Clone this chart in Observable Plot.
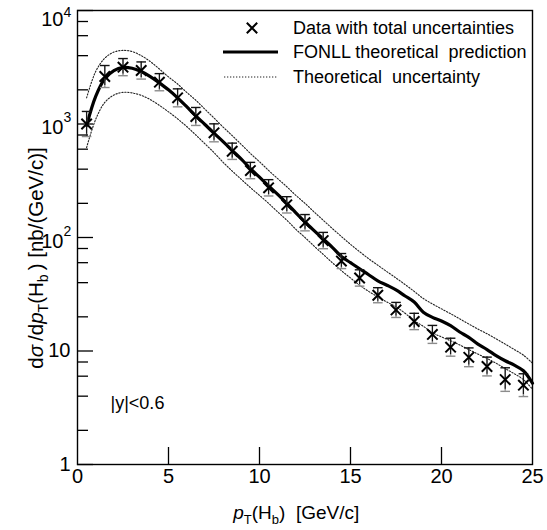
<!DOCTYPE html>
<html><head><meta charset="utf-8">
<script src="https://cdn.jsdelivr.net/npm/d3@7"></script>
<script src="https://cdn.jsdelivr.net/npm/@observablehq/plot@0.6"></script>
<style>
body{margin:0;background:#fff;}
#chart{position:relative;width:547px;height:530px;}
#chart svg{font-family:"Liberation Sans",Arial,sans-serif;}
</style></head><body><div id="chart"></div>
<script>
// ---- data ----
const ptBins = [0.5,1.5,2.5,3.5,4.5,5.5,6.5,7.5,8.5,9.5,10.5,11.5,12.5,13.5,14.5,15.5,16.5,17.5,18.5,19.5,20.5,21.5,22.5,23.5,24.5];
const dataValues = [1000,2620,3170,2960,2335,1700,1165,836,575,389,274,194,135,94,62,44,31,23,18.2,14.0,10.8,8.8,7.3,5.6,5.0];
const dataErrPct = [29,25,19,19,19,20,20,20,18,18,18,18,18,18,16.5,18,16.5,16.5,18,20,20,21,21,27,26];

const theoryPt = [0.5,1,1.5,2,2.5,3,3.5,4,4.5,5,5.5,6,6.5,7,7.5,8,8.5,9,9.5,10,10.5,11,11.5,12,12.5,13,13.5,14,14.5,15,15.5,16,16.5,17,17.5,18,18.5,19,19.5,20,20.5,21,21.5,22,22.5,23,23.5,24,24.5,25];
const theoryCentral = [970,1750,2500,2950,3150,3100,2900,2620,2300,2000,1700,1420,1180,990,830,700,585,490,405,340,285,240,200,165,137,115,97,82,68,60,53,47,41.5,38,34.5,30.5,27,22,19.8,18.4,16.7,14.7,13.2,11.5,10.3,9.1,8.2,7.5,6.7,5.2];
const theoryUpper = [1700,2900,3800,4300,4450,4350,4000,3550,3050,2600,2250,1900,1620,1350,1130,940,790,660,550,465,390,330,280,235,200,168,142,120,102,87,75,65,57,50,44,38.5,33.5,29,26,23.5,21.3,19.2,17.3,15.6,14.2,12.8,11.5,10.3,9.2,7.8];
const theoryLower = [620,1100,1550,1800,1900,1880,1790,1640,1460,1280,1110,950,800,670,560,460,385,325,275,235,200,168,142,118,100,84,71,60,51,44,38,33.5,30,27,24.5,21.5,18.5,16.5,14.5,13.3,12.3,11.3,10.3,9.4,8.6,7.8,7.0,6.3,5.6,4.6];

const xTickValues = [0,5,10,15,20,25];
const yMajorTicks = [1,10,100,1000,10000];
const yMinorMantissa = [2,4,6,8];
const legendLabels = ["Data with total uncertainties","FONLL theoretical  prediction","Theoretical  uncertainty"];
const rapidityLabel = "|y|<0.6";

// ---- tables built from the arrays ----
const points = ptBins.map((pt,i)=>({pt, v:dataValues[i], lo:dataValues[i]/(1+dataErrPct[i]/100), hi:dataValues[i]*(1+dataErrPct[i]/100), loB:dataValues[i]/(1+0.8*dataErrPct[i]/100)}));
const theory = theoryPt.map((pt,i)=>({pt, c:theoryCentral[i], u:theoryUpper[i], l:theoryLower[i]}));
const yMinorTicks = [];
for (const d of [1,10,100,1000]) for (const m of yMinorMantissa) yMinorTicks.push(d*m);
const yLow = yMajorTicks.filter(d=>d<100);
const yPow = yMajorTicks.filter(d=>d>=100 && d<10000);
const yTop = yMajorTicks.filter(d=>d>=10000);
const expo = d=>String(Math.round(Math.log10(d)));

const W=547,H=530,mL=77,mR=15,mT=10,mB=66;
const fw=W-mL-mR, fh=H-mT-mB;
const cap = {draw(ctx,size){const w=Math.sqrt(size/Math.PI); ctx.moveTo(-w,0); ctx.lineTo(w,0);}};
const gray="#8c8c8c";
const font='"Liberation Sans",Arial,sans-serif';
const fs=18;

const chart = Plot.plot({
  width:W,height:H,marginLeft:mL,marginRight:mR,marginTop:mT,marginBottom:mB,
  x:{domain:[0,25],axis:null},
  y:{type:"log",domain:[1,1e4],axis:null},
  style:{fontFamily:font,background:"white",color:"black",overflow:"visible"},
  marks:[
    Plot.line(theory,{x:"pt",y:"u",stroke:"#222",strokeWidth:1.1,strokeDasharray:"1.3,1.7",curve:"catmull-rom"}),
    Plot.line(theory,{x:"pt",y:"l",stroke:"#222",strokeWidth:1.1,strokeDasharray:"1.3,1.7",curve:"catmull-rom"}),
    Plot.line(theory,{x:"pt",y:"c",stroke:"black",strokeWidth:3.2,curve:"catmull-rom"}),
    Plot.ruleX(points,{x:"pt",y1:"lo",y2:"hi",stroke:gray,strokeWidth:1.4}),
    Plot.dot(points,{x:"pt",y:"lo",symbol:cap,r:4.8,stroke:gray,strokeWidth:1.4,fill:"none"}),
    Plot.ruleX(points,{x:"pt",y1:"loB",y2:"hi",stroke:"#111",strokeWidth:1.1}),
    Plot.dot(points,{x:"pt",y:"hi",symbol:cap,r:4.8,stroke:"#111",strokeWidth:1.4,fill:"none"}),
    Plot.dot(points,{x:"pt",y:"v",symbol:"times",r:4.8,stroke:"black",strokeWidth:2,fill:"none"}),
    Plot.tickY(yMajorTicks,{y:d=>d,insetRight:fw-16,stroke:"black",strokeWidth:1.3}),
    Plot.tickY(yMinorTicks,{y:d=>d,insetRight:fw-11,stroke:"black",strokeWidth:1.3}),
    Plot.tickX(xTickValues.slice(1,-1),{x:d=>d,insetTop:fh-17,stroke:"black",strokeWidth:1.3}),
    Plot.frame({stroke:"black",strokeWidth:1.4}),
    Plot.text(xTickValues,{x:d=>d,frameAnchor:"bottom",dy:18,text:d=>String(d),fontSize:20,fill:"black"}),
    Plot.text(yLow,{y:d=>d,frameAnchor:"left",dx:-7,text:d=>String(d),textAnchor:"end",fontSize:20,fill:"black"}),
    Plot.text(yPow,{y:d=>d,frameAnchor:"left",dx:-14,dy:4,text:()=>"10",textAnchor:"end",fontSize:20,fill:"black"}),
    Plot.text(yPow,{y:d=>d,frameAnchor:"left",dx:-14,dy:-6,text:expo,textAnchor:"start",fontSize:14,fill:"black"}),
    Plot.text(yTop,{y:d=>d,frameAnchor:"left",dx:-14,dy:9,text:()=>"10",textAnchor:"end",fontSize:20,fill:"black"}),
    Plot.text(yTop,{y:d=>d,frameAnchor:"left",dx:-14,dy:2,text:expo,textAnchor:"start",fontSize:14,fill:"black"}),
    Plot.text([rapidityLabel],{frameAnchor:"bottom-left",dx:33,dy:-56,text:d=>d,textAnchor:"start",fontSize:fs,fill:"black"})
  ]
});
document.getElementById("chart").appendChild(chart);

const svg = d3.select(chart);
function rich(sel, parts){
  for (const p of parts){
    const t = sel.append("tspan").text(p.t);
    if (p.i) t.attr("font-style","italic");
    if (p.s) t.attr("font-size",p.s);
    if (p.dy) t.attr("dy",p.dy);
  }
}
const xt = svg.append("text").attr("x",mL+fw*0.482).attr("y",H-11).attr("text-anchor","middle")
  .attr("font-size",19).attr("fill","black");
rich(xt,[{t:"p",i:1},{t:"T",s:13,dy:5},{t:"(H",dy:-5},{t:"b",s:13,dy:5},{t:")\u00a0\u00a0[GeV/c]",dy:-5}]);

const yt = svg.append("text").attr("transform",`translate(43,258) rotate(-90)`).attr("text-anchor","middle")
  .attr("font-size",20.5).attr("fill","black");
rich(yt,[{t:"d"},{t:"\u03c3",i:1},{t:"\u2009/d"},{t:"p",i:1},{t:"T",s:14,dy:5},{t:"(H",dy:-5},{t:"b",s:14,dy:5},{t:"\u2009) [nb/(GeV/c)]",dy:-5}]);

// legend
const lg = svg.append("g");
lg.append("path").attr("transform","translate(252,28)").attr("d",d3.symbol(d3.symbolTimes,Math.PI*4.8*4.8)()).attr("stroke","black").attr("stroke-width",2).attr("fill","none");
lg.append("line").attr("x1",223).attr("x2",278).attr("y1",52).attr("y2",52).attr("stroke","black").attr("stroke-width",3.2);
lg.append("line").attr("x1",224).attr("x2",278).attr("y1",77).attr("y2",77).attr("stroke","#222").attr("stroke-width",1.1).attr("stroke-dasharray","1.3,1.7");
legendLabels.forEach((s,i)=>{
  lg.append("text").attr("x",293).attr("y",[28,52,77][i]).attr("dy","0.36em").attr("text-anchor","start")
    .attr("font-size",fs).attr("fill","black").attr("xml:space","preserve").text(s);
});
</script></body></html>
